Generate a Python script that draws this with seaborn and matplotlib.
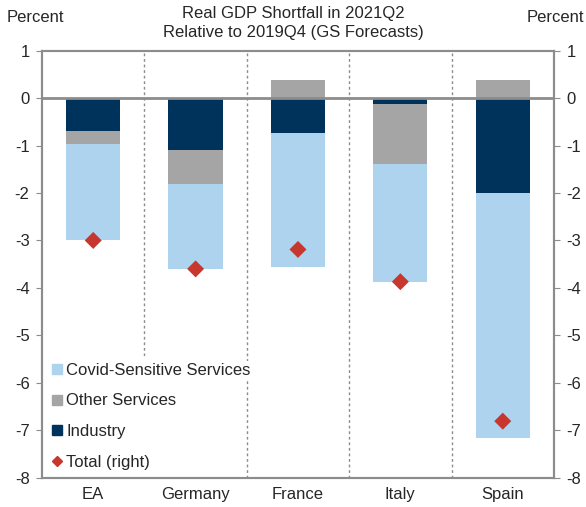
import matplotlib
matplotlib.use("Agg")
import matplotlib.pyplot as plt
from matplotlib.lines import Line2D
import numpy as np
import pandas as pd
import seaborn as sns

countries = ["EA", "Germany", "France", "Italy", "Spain"]
industry = [-0.70, -1.09, -0.74, -0.13, -2.00]
other_services = [-0.27, -0.72, 0.38, -1.25, 0.38]
covid_services = [-2.03, -1.80, -2.82, -2.49, -5.16]
total = [-3.00, -3.60, -3.19, -3.87, -6.81]

C_COVID = "#AED3EF"
C_OTHER = "#A5A5A5"
C_IND = "#00335C"
C_TOT = "#C8372D"
C_AX = "#8C8C8C"

sns.set_style("white")
plt.rcParams["font.family"] = ["Liberation Sans", "DejaVu Sans"]
plt.rcParams["font.size"] = 12

df = pd.DataFrame({"country": countries, "industry": industry,
                   "other": other_services, "covid": covid_services, "total": total})
ind = np.array(industry)
oth = np.array(other_services)
df["other_bottom"] = np.where(oth < 0, ind, 0.0)
df["covid_bottom"] = ind + np.minimum(oth, 0)

fig = plt.figure(figsize=(5.86, 5.07), dpi=100)
ax = fig.add_axes([0.0717, 0.058, 0.8736, 0.842])

bw = 0.53
bar_kw = dict(width=bw, saturation=1, ax=ax, zorder=2, linewidth=0, edgecolor="none")
sns.barplot(data=df, x="country", y="industry", color=C_IND, **bar_kw)
sns.barplot(data=df, x="country", y="other", bottom=df["other_bottom"],
            color=C_OTHER, **bar_kw)
sns.barplot(data=df, x="country", y="covid", bottom=df["covid_bottom"],
            color=C_COVID, **bar_kw)

ax2 = ax.twinx()
sns.scatterplot(data=df, x="country", y="total", marker="D", s=75,
                color=C_TOT, edgecolor="none", ax=ax2, zorder=3)

for a in (ax, ax2):
    a.set_ylim(-8, 1)
    a.set_yticks(range(-8, 2))
    a.set_yticklabels([str(v) for v in range(-8, 2)])
    a.set_xlim(-0.5, 4.5)
    a.set_xlabel("")
    a.set_ylabel("")
    for s in a.spines.values():
        s.set_color(C_AX)
        s.set_linewidth(1.5)

ax.tick_params(axis="y", left=True, length=4, color=C_AX, labelsize=12, pad=5)
ax.tick_params(axis="x", bottom=False, labelsize=12, pad=3)
ax2.tick_params(axis="y", right=True, length=4, color=C_AX, labelsize=12, pad=5)

ax.axhline(0, color=C_AX, lw=2, zorder=2.5)
# separators; the first one is hidden behind the legend box
ax.axvline(0.5, color=C_AX, lw=1, ls=(0, (2, 2)), zorder=1)
ax.axvline(0.5, ymin=0, ymax=0.28, color="white", lw=3, zorder=1.5)
for x in [1.5, 2.5, 3.5]:
    ax.axvline(x, color=C_AX, lw=1, ls=(0, (2, 2)), zorder=1)

handles = [
    Line2D([], [], marker="s", ls="none", color=C_COVID, markersize=7),
    Line2D([], [], marker="s", ls="none", color=C_OTHER, markersize=7),
    Line2D([], [], marker="s", ls="none", color=C_IND, markersize=7),
    Line2D([], [], marker="D", ls="none", color=C_TOT, markersize=5),
]
labels = ["Covid-Sensitive Services", "Other Services", "Industry", "Total (right)"]
leg = ax2.legend(handles, labels, loc="lower left", bbox_to_anchor=(0.005, 0.0),
                 frameon=False, fontsize=12, handlelength=0.6, handletextpad=0.25,
                 labelspacing=0.95, borderpad=0.3, borderaxespad=0.15)
for t in leg.get_texts():
    t.set_bbox(dict(facecolor="white", edgecolor="none", pad=1))
leg.set_zorder(5)

fig.text(0.5, 0.988, "Real GDP Shortfall in 2021Q2\nRelative to 2019Q4 (GS Forecasts)",
         ha="center", va="top", fontsize=12, linespacing=1.3)
fig.text(0.012, 0.965, "Percent", ha="left", va="center", fontsize=12)
fig.text(0.997, 0.965, "Percent", ha="right", va="center", fontsize=12)

fig.savefig("out.png", dpi=100)
